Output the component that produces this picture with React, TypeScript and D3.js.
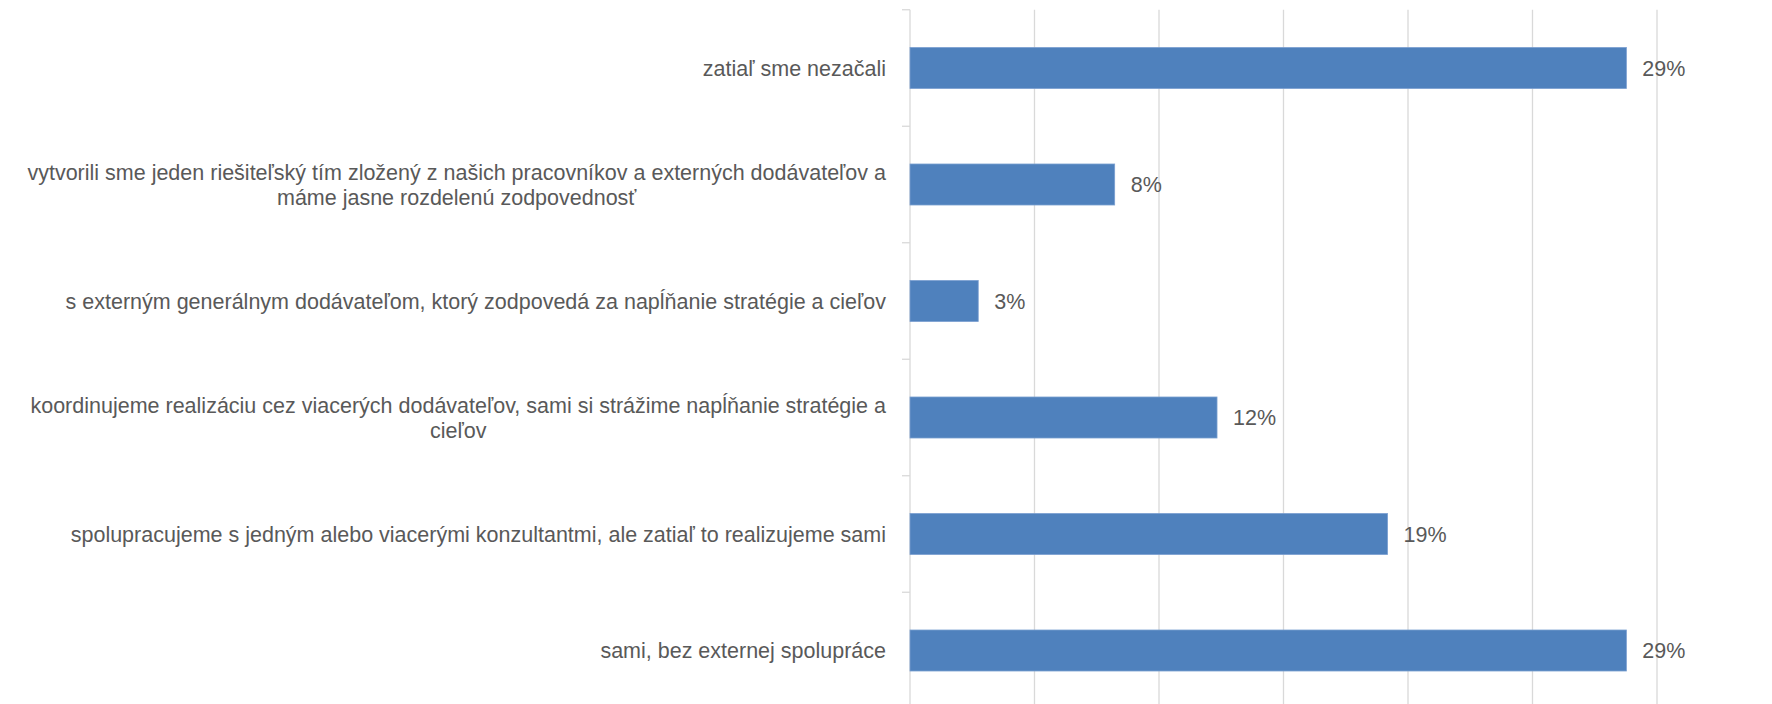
import { useEffect, useRef } from 'react';
import * as d3 from 'd3';

const categories = [
  'zatiaľ sme nezačali',
  'vytvorili sme jeden riešiteľský tím zložený z našich pracovníkov a externých dodávateľov a\nmáme jasne rozdelenú zodpovednosť',
  's externým generálnym dodávateľom, ktorý zodpovedá za napĺňanie stratégie a cieľov',
  'koordinujeme realizáciu cez viacerých dodávateľov, sami si strážime napĺňanie stratégie a\ncieľov',
  'spolupracujeme s jedným alebo viacerými konzultantmi, ale zatiaľ to realizujeme sami',
  'sami, bez externej spolupráce',
];
const values = [28.77, 8.22, 2.74, 12.33, 19.18, 28.77];
const xTicks = [0, 5, 10, 15, 20, 25, 30];

const W = 1772;
const H = 704;
const FONT = '"Liberation Sans", Arial, sans-serif';
const FONT_SIZE = 21.5;
const TEXT = '#595959';
const GRID = '#d9d9d9';
const BAR = '#4f81bd';

export default function App() {
  const svgRef = useRef<SVGSVGElement>(null);

  useEffect(() => {
    const svg = d3.select(svgRef.current).attr('width', W).attr('height', H);
    svg.selectAll('*').remove();

    const left = 910, right = 1657, top = 9.75, bottom = 708.75;

    const x = d3.scaleLinear().domain([0, 30]).range([left, right]);
    const y = d3.scaleBand<string>()
      .domain(categories)
      .range([top, bottom])
      .paddingInner(0.648)
      .paddingOuter(0.324);

    const step = y.step();

    // vertical gridlines
    svg.append('g')
      .selectAll('line')
      .data(xTicks.slice(1))
      .join('line')
      .attr('x1', d => x(d))
      .attr('x2', d => x(d))
      .attr('y1', top)
      .attr('y2', bottom)
      .attr('stroke', GRID)
      .attr('stroke-width', 1.3);

    // category axis
    const boundaries = categories.map(c => y(c)! + y.bandwidth() / 2 - step / 2);
    boundaries.push(bottom);
    svg.append('line')
      .attr('x1', left).attr('x2', left)
      .attr('y1', top).attr('y2', bottom)
      .attr('stroke', GRID).attr('stroke-width', 1.3);
    svg.append('g')
      .selectAll('line')
      .data(boundaries)
      .join('line')
      .attr('x1', left - 8).attr('x2', left)
      .attr('y1', d => d).attr('y2', d => d)
      .attr('stroke', GRID).attr('stroke-width', 1.3);

    // bars
    svg.append('g')
      .selectAll('rect')
      .data(values)
      .join('rect')
      .attr('x', x(0))
      .attr('y', (d, i) => y(categories[i])!)
      .attr('width', d => x(d) - x(0))
      .attr('height', y.bandwidth())
      .attr('fill', BAR)
      .attr('stroke', '#7a9fd0')
      .attr('stroke-width', 0.8);

    // value labels
    svg.append('g')
      .selectAll('text')
      .data(values)
      .join('text')
      .attr('x', d => x(d) + 16)
      .attr('y', (d, i) => y(categories[i])! + y.bandwidth() / 2)
      .attr('dy', '0.35em')
      .attr('font-family', FONT)
      .attr('font-size', FONT_SIZE)
      .attr('fill', TEXT)
      .text(d => `${Math.round(d)}%`);

    // category labels: block right-aligned, lines centered inside block
    const lineH = 25;
    const labelRight = left - 24;
    categories.forEach(c => {
      const lines = c.split('\n');
      const cy = y(c)! + y.bandwidth() / 2;
      const g = svg.append('g');
      const texts = lines.map((ln, j) =>
        g.append('text')
          .attr('y', cy + (j - (lines.length - 1) / 2) * lineH)
          .attr('dy', '0.35em')
          .attr('font-family', FONT)
          .attr('font-size', FONT_SIZE)
          .attr('fill', TEXT)
          .attr('text-anchor', 'middle')
          .text(ln)
      );
      const maxW = d3.max(texts, t => (t.node() as SVGTextElement).getComputedTextLength()) || 0;
      texts.forEach(t => t.attr('x', labelRight - maxW / 2));
    });
  }, []);

  return (
    <div style={{ position: 'absolute', left: 0, top: 0 }}>
      <svg ref={svgRef} style={{ display: 'block', background: '#fff' }}></svg>
    </div>
  );
}
